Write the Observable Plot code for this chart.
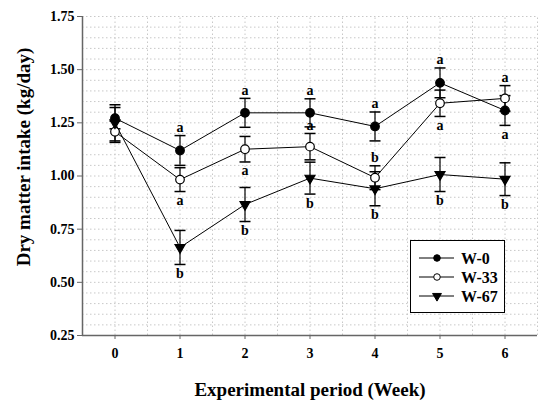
<!DOCTYPE html>
<html>
<head>
<meta charset="utf-8">
<script src="https://cdn.jsdelivr.net/npm/d3@7"></script>
<script src="https://cdn.jsdelivr.net/npm/@observablehq/plot@0.6"></script>
<style>
  html, body { margin: 0; padding: 0; background: #fff; }
  #wrap { position: relative; width: 550px; height: 406px; font-family: "Liberation Serif", "Times New Roman", serif; }
  #legend { position: absolute; left: 410px; top: 240px; width: 95px; height: 73px; border: 1px solid #000; background: #fff; box-sizing: border-box; }
</style>
</head>
<body>
<div id="wrap"><div id="chart"></div><div id="legend"></div></div>
<script>
const weeks = [0, 1, 2, 3, 4, 5, 6];
const seriesNames = ["W-0", "W-33", "W-67"];
const w0 = [1.272, 1.120, 1.297, 1.297, 1.233, 1.438, 1.308];
const w0se = [0.050, 0.070, 0.068, 0.066, 0.068, 0.070, 0.070];
const w33 = [1.208, 0.983, 1.126, 1.138, 0.992, 1.342, 1.365];
const w33se = [0.050, 0.056, 0.060, 0.062, 0.056, 0.062, 0.060];
const w67 = [1.250, 0.664, 0.866, 0.990, 0.940, 1.007, 0.985];
const w67se = [0.085, 0.080, 0.080, 0.075, 0.080, 0.080, 0.077];
const w0Letters = ["", "a", "a", "a", "a", "a", "a"];
const w0LetterPos = ["", "top", "top", "top", "top", "top", "bottom"];
const w33Letters = ["", "a", "a", "a", "b", "a", "a"];
const w33LetterPos = ["", "bottom", "bottom", "top", "top", "bottom", "top"];
const w67Letters = ["", "b", "b", "b", "b", "b", "b"];
const w67LetterPos = ["", "bottom", "bottom", "bottom", "bottom", "bottom", "bottom"];
const yTicks = [0.25, 0.50, 0.75, 1.00, 1.25, 1.50, 1.75];
const xTicks = [0, 1, 2, 3, 4, 5, 6];
const yTitle = "Dry matter intake (kg/day)";
const xTitle = "Experimental period (Week)";

const means = [w0, w33, w67];
const ses = [w0se, w33se, w67se];
const letters = [w0Letters, w33Letters, w67Letters];
const letterPos = [w0LetterPos, w33LetterPos, w67LetterPos];
const fills = ["#000", "#fff", "#000"];
const symbols = ["circle", "circle", "triangle"];
const rotates = [0, 0, 180];
const radii = [4.3, 4.3, 3.7];

const rows = [];
seriesNames.forEach((s, i) => {
  weeks.forEach((w, j) => {
    rows.push({series: s, si: i, week: w, mean: means[i][j], se: ses[i][j],
      lo: means[i][j] - ses[i][j], hi: means[i][j] + ses[i][j],
      letter: letters[i][j], pos: letterPos[i][j]});
  });
});

const gridY = d3.range(5, 36).map(i => i / 20);
const gridX = d3.range(0, 14).map(i => i / 2);

const cap = { draw(ctx) { ctx.moveTo(-5.5, 0); ctx.lineTo(5.5, 0); } };
const serif = "Liberation Serif";

const marks = [
  Plot.ruleY(gridY, {stroke: "#c8c8c8", strokeDasharray: "1.5,2.5", strokeWidth: 1}),
  Plot.ruleX(gridX, {y1: 0.25, y2: 1.75, stroke: "#c8c8c8", strokeDasharray: "1.5,2.5", strokeWidth: 1}),
  Plot.axisY(yTicks, {tickSize: 5, tickPadding: 3, tickFormat: d3.format(".2f"), fontSize: 14, fontWeight: "bold", fontFamily: serif, fill: "#000", stroke: "#666", label: null}),
  Plot.axisX(xTicks, {tickSize: 4, tickPadding: 9, tickFormat: d => String(d), fontSize: 14, fontWeight: "bold", fontFamily: serif, fill: "#000", stroke: "#666", label: null}),
  Plot.ruleX([-0.5], {stroke: "#666", strokeWidth: 1.5}),
  Plot.ruleY([0.25], {stroke: "#666", strokeWidth: 1.5}),
];
seriesNames.forEach((s, i) => {
  const d = rows.filter(r => r.si === i);
  marks.push(Plot.line(d, {x: "week", y: "mean", stroke: "#000", strokeWidth: 1}));
});
seriesNames.forEach((s, i) => {
  const d = rows.filter(r => r.si === i);
  marks.push(Plot.ruleX(d, {x: "week", y1: "lo", y2: "hi", stroke: "#000", strokeWidth: 1.2}));
  marks.push(Plot.dot(d, {x: "week", y: "lo", symbol: cap, stroke: "#000", strokeWidth: 1.5, r: 5}));
  marks.push(Plot.dot(d, {x: "week", y: "hi", symbol: cap, stroke: "#000", strokeWidth: 1.5, r: 5}));
});
seriesNames.forEach((s, i) => {
  const d = rows.filter(r => r.si === i);
  marks.push(Plot.dot(d, {x: "week", y: "mean", symbol: symbols[i], rotate: rotates[i], r: radii[i], fill: fills[i], stroke: "#000", strokeWidth: 1.2}));
});
marks.push(Plot.text(rows.filter(r => r.letter && r.pos === "top"), {x: "week", y: "hi", text: "letter", dy: -8, fontSize: 14, fontWeight: "bold", fontFamily: serif, fill: "#000"}));
marks.push(Plot.text(rows.filter(r => r.letter && r.pos === "bottom"), {x: "week", y: "lo", text: "letter", dy: 9, fontSize: 14, fontWeight: "bold", fontFamily: serif, fill: "#000"}));

const chart = Plot.plot({
  width: 550, height: 406,
  marginLeft: 82, marginRight: 13, marginTop: 16, marginBottom: 71,
  x: {domain: [-0.5, 6.5]},
  y: {domain: [0.25, 1.75]},
  style: {background: "#fff", fontFamily: serif, overflow: "visible"},
  marks
});
document.getElementById("chart").appendChild(chart);

// Axis titles
const svg = d3.select(chart);
svg.append("text").attr("transform", "translate(23,157) rotate(-90)")
  .attr("text-anchor", "middle").attr("dy", "0.35em")
  .attr("font-size", 19).attr("font-weight", "bold").attr("font-family", serif).attr("fill", "#000")
  .text(yTitle);
svg.append("text").attr("x", 310).attr("y", 389)
  .attr("text-anchor", "middle").attr("dy", "0.35em")
  .attr("font-size", 19).attr("font-weight", "bold").attr("font-family", serif).attr("fill", "#000")
  .text(xTitle);

// Legend
const lg = d3.select("#legend").append("svg").attr("width", 93).attr("height", 71);
seriesNames.forEach((s, i) => {
  const y = 17 + i * 19;
  const g = lg.append("g").attr("transform", `translate(0,${y})`);
  g.append("line").attr("x1", 8).attr("x2", 43).attr("y1", 0).attr("y2", 0).attr("stroke", "#000").attr("stroke-width", 1);
  const sym = d3.symbol().type(symbols[i] === "triangle" ? d3.symbolTriangle : d3.symbolCircle).size(i === 2 ? 34 : 34);
  g.append("path").attr("d", sym()).attr("transform", `translate(26,0) rotate(${rotates[i]})`).attr("fill", fills[i]).attr("stroke", "#000").attr("stroke-width", 1);
  g.append("text").attr("x", 50).attr("y", 0).attr("dy", "0.35em").attr("font-size", 16).attr("font-weight", "bold").attr("font-family", serif).text(s);
});
</script>
</body>
</html>
